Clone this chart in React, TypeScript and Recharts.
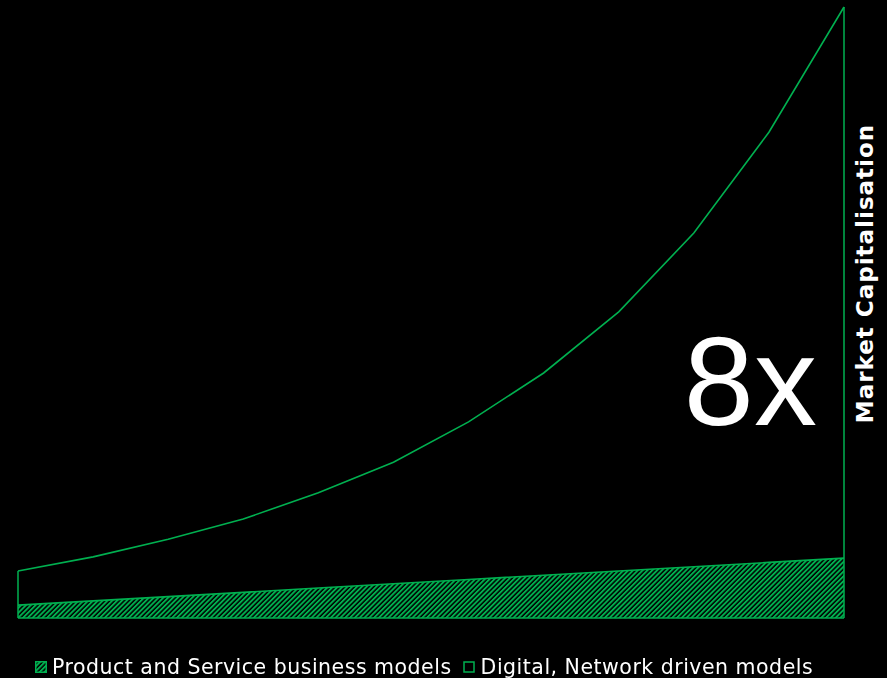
import React from "react";
import { AreaChart, Area, XAxis, YAxis, Legend, ReferenceLine, ReferenceDot } from "recharts";

const categories = ["T1", "T2", "T3", "T4", "T5", "T6", "T7", "T8", "T9", "T10", "T11", "T12"];
const productValues = [2.1, 2.8, 3.5, 4.2, 4.9, 5.6, 6.3, 7.0, 7.7, 8.4, 9.1, 9.8];
const digitalValues = [5.6, 7.2, 9.4, 12.0, 15.6, 19.9, 25.8, 33.1, 42.4, 54.6, 70.4, 90.2];
const seriesNames = ["Product and Service business models", "Digital, Network driven models"];
const axisTitle = "Market Capitalisation";
const multipleLabel = "8x";

const GREEN = "#00B050";

const data = categories.map((c, i) => ({
  cat: c,
  product: productValues[i],
  digital: digitalValues[i],
}));

const firstCat = categories[0];
const firstTotal = productValues[0] + digitalValues[0];

const HatchPattern = ({ id }: { id: string }) => (
  <pattern id={id} patternUnits="userSpaceOnUse" width={3.4} height={3.4} patternTransform="rotate(45)">
    <rect width={3.4} height={3.4} fill="#000" />
    <rect width={1.9} height={3.4} fill={GREEN} />
  </pattern>
);

const LegendContent = () => (
  <div
    style={{
      display: "flex",
      alignItems: "center",
      fontFamily: "DejaVu Sans",
      fontSize: 20.5,
      letterSpacing: 0.5,
      color: "#fff",
      whiteSpace: "nowrap",
    }}
  >
    <svg width={12} height={12} style={{ marginLeft: 35, marginRight: 5 }}>
      <defs>
        <HatchPattern id="hatchLegend" />
      </defs>
      <rect x={0.75} y={0.75} width={10.5} height={10.5} fill="url(#hatchLegend)" stroke={GREEN} strokeWidth={1.5} />
    </svg>
    <span>{seriesNames[0]}</span>
    <svg width={12} height={12} style={{ marginLeft: 11, marginRight: 6 }}>
      <rect x={1} y={1} width={10} height={10} fill="#000" stroke={GREEN} strokeWidth={1.5} />
    </svg>
    <span>{seriesNames[1]}</span>
  </div>
);

const EightX = (props: any) => {
  const vb = props.viewBox || {};
  const cx = (vb.x ?? 0) + (vb.width ?? 0) / 2;
  const cy = (vb.y ?? 0) + (vb.height ?? 0) / 2;
  return (
    <text x={cx + 48} y={cy + 45} textAnchor="end" fill="#fff" fontFamily="Liberation Sans" fontSize={126}>
      {multipleLabel}
    </text>
  );
};

const AxisTitle = (props: any) => {
  const vb = props.viewBox || {};
  const x = (vb.x ?? 0) + (vb.width ?? 0) / 2 - 1;
  const y = (vb.y ?? 0) + (vb.height ?? 0) / 2 - 39;
  return (
    <text
      x={x}
      y={y}
      transform={`rotate(-90, ${x}, ${y})`}
      textAnchor="middle"
      dominantBaseline="central"
      fill="#fff"
      fontFamily="DejaVu Sans"
      fontWeight="bold"
      fontSize={23}
      letterSpacing={1.0}
    >
      {axisTitle}
    </text>
  );
};

export default function App() {
  return (
    <div style={{ position: "fixed", left: 0, top: 0, width: 887, height: 678, background: "#000" }}>
      <AreaChart width={887} height={678} data={data} margin={{ top: 7, right: 0, left: 18, bottom: 30 }}>
        <defs>
          <HatchPattern id="hatch" />
        </defs>
        <XAxis dataKey="cat" tick={false} tickLine={false} axisLine={{ stroke: GREEN, strokeWidth: 1.5 }} />
        <YAxis
          orientation="right"
          width={43}
          domain={[0, 100]}
          tick={false}
          tickLine={false}
          axisLine={{ stroke: GREEN, strokeWidth: 1.5 }}
          label={<AxisTitle />}
        />
        <Area
          type="linear"
          dataKey="product"
          stackId="1"
          name={seriesNames[0]}
          stroke={GREEN}
          strokeWidth={1.6}
          fill="url(#hatch)"
          fillOpacity={1}
          isAnimationActive={false}
        />
        <Area
          type="linear"
          dataKey="digital"
          stackId="1"
          name={seriesNames[1]}
          stroke={GREEN}
          strokeWidth={1.6}
          fill="none"
          isAnimationActive={false}
        />
        <ReferenceLine
          segment={[
            { x: firstCat, y: 0 },
            { x: firstCat, y: firstTotal },
          ]}
          stroke={GREEN}
          strokeWidth={1.5}
        />
        <ReferenceDot x={categories[10]} y={39} r={0} fill="none" stroke="none" label={<EightX />} />
        <Legend
          verticalAlign="middle"
          align="center"
          layout="horizontal"
          content={<LegendContent />}
          wrapperStyle={{ top: 655, left: 0, width: 887 }}
        />
      </AreaChart>
    </div>
  );
}
